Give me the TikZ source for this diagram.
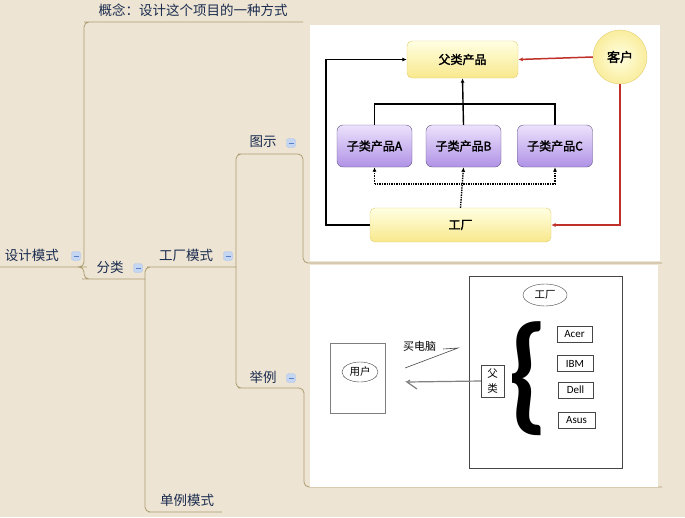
\documentclass[tikz,border=0pt]{standalone}
\usepackage{fontspec}
\usepackage{graphicx}
\setmainfont{Noto Sans CJK SC}
\newfontfamily\heavy[FakeBold=2]{Noto Sans CJK SC}
\newfontfamily\calib{Carlito}
\usetikzlibrary{shapes.geometric,arrows.meta}
\definecolor{paper}{RGB}{237,228,211}
\definecolor{branch}{RGB}{172,158,112}
\definecolor{topictext}{RGB}{26,44,80}
\definecolor{foldfill}{RGB}{196,214,242}
\definecolor{foldline}{RGB}{90,128,196}
\definecolor{redline}{RGB}{192,48,40}
\definecolor{ytop}{RGB}{255,255,226}
\definecolor{ybot}{RGB}{248,232,140}
\definecolor{yedge}{RGB}{226,206,112}
\definecolor{ptop}{RGB}{236,226,252}
\definecolor{pbot}{RGB}{176,146,230}
\definecolor{pedge}{RGB}{96,82,128}
\definecolor{sketch}{RGB}{70,70,70}

\begin{document}
\begin{tikzpicture}[x=1pt,y=-1pt]
\tikzstyle{every node}+=[inner sep=0pt]
\tikzstyle{topic}=[text=topictext,font=\fontsize{13.5}{16}\selectfont]
\tikzstyle{branch}=[draw=branch,line width=0.8pt,rounded corners=5pt]
\tikzstyle{fold}=[draw=foldfill!80!foldline,fill=foldfill,rounded corners=2.5pt,minimum size=9pt,
  path picture={\draw[foldline,line width=1pt] ([xshift=-2.5pt]path picture bounding box.center) -- ([xshift=2.5pt]path picture bounding box.center);}]
\tikzstyle{ybox}=[draw=yedge,rounded corners=5pt,top color=ytop,bottom color=ybot,font=\heavy\fontsize{12}{14}\selectfont]
\tikzstyle{pbox}=[draw=pedge,rounded corners=6pt,top color=ptop,bottom color=pbot,minimum width=75pt,minimum height=42pt,font=\heavy\fontsize{12}{14}\selectfont]
\tikzstyle{pc}=[draw=sketch,line width=0.5pt,font=\calib\fontsize{11}{12}\selectfont,minimum height=16pt]
\tikzstyle{tip}=[-{Latex[length=4.5pt,width=4pt]}]
\tikzstyle{wire}=[black,line width=1.4pt]
\useasboundingbox (0,0) rectangle (685,517);
\fill[paper] (0,0) rectangle (685,517);

\node[topic] (concept) at (193,10) {概念：设计这个项目的一种方式};
\node[topic] (root) at (32,255) {设计模式};
\node[topic] (sort) at (110,267) {分类};
\node[topic] (factorymode) at (186,255) {工厂模式};
\node[topic] (single) at (187,500) {单例模式};
\node[topic] (figure) at (263,142) {图示};
\node[topic] (example) at (263,377) {举例};
\node[fold] (root-fold) at (76,256) {};
\node[fold] (sort-fold) at (138,268) {};
\node[fold] (factorymode-fold) at (228,256) {};
\node[fold] (figure-fold) at (291,143) {};
\node[fold] (example-fold) at (291,378) {};

\coordinate (root-l) at (0,267);
\coordinate (root-r) at (82,267);
\coordinate (concept-l) at (89,22);
\coordinate (concept-r) at (303,22);
\coordinate (sort-l) at (87,279);
\coordinate (sort-r) at (145,279);
\coordinate (factorymode-l) at (152,267);
\coordinate (factorymode-r) at (236,267);
\coordinate (single-l) at (153,512);
\coordinate (single-r) at (222,512);
\coordinate (figure-l) at (243,154);
\coordinate (figure-r) at (298,154);
\coordinate (example-l) at (243,388);
\coordinate (example-r) at (298,388);
\coordinate (shot1-r) at (662,263);
\coordinate (shot2-r) at (662,487);
\draw[branch] (root-l) -- (root-r) -- ++(2,0) |- (concept-l) -- (concept-r);
\draw[branch] (root-r) -- ++(2,0) |- (sort-l) -- (sort-r);
\draw[branch] (sort-r) |- (factorymode-l) -- (factorymode-r);
\draw[branch] (sort-r) |- (single-l) -- (single-r);
\draw[branch] (factorymode-r) |- (figure-l) -- (figure-r);
\draw[branch] (factorymode-r) |- (example-l) -- (example-r);
\draw[branch] (figure-r) -- ++(5,0) |- (shot1-r);
\draw[branch] (example-r) -- ++(6,0) |- (shot2-r);

\fill[white] (310,25) rectangle (660,261);
\node[ybox,minimum width=111pt,minimum height=37pt] (parent) at (462.5,59.5) {父类产品};
\node[circle,draw=yedge,inner color=ytop,outer color=ybot!80!ytop,minimum size=54pt,font=\heavy\fontsize{13}{15}\selectfont] (client) at (620,57) {客户};
\node[pbox] (subA) at (374.5,146) {子类产品A};
\node[pbox] (subB) at (463.5,146) {子类产品B};
\node[pbox] (subC) at (555,146) {子类产品C};
\node[ybox,minimum width=181pt,minimum height=34pt] (factory) at (460.5,225) {工厂};
\coordinate (bus) at (462,104);
\coordinate (dotbus) at (463,184);
\draw[wire] (subA.north) -- (subA.north |- bus) -- (subC.north |- bus) -- (subC.north);
\draw[wire,tip] (subB.north) -- (parent.south);
\draw[wire,tip] (factory.west) -- ++(-44,0) |- (parent.west);
\draw[redline,line width=1.5pt,tip] (client.west) -- (parent.east);
\draw[redline,line width=1.5pt,tip] (client.south) |- (factory.east);
\draw[wire,densely dotted] (subA.south |- dotbus) -- (subC.south |- dotbus);
\draw[wire,densely dotted,tip] (subA.south |- dotbus) -- (subA.south);
\draw[wire,densely dotted,tip] (subC.south |- dotbus) -- (subC.south);
\draw[wire,densely dotted,tip] (factory.north) -- (subB.south);

\fill[white] (310,265) rectangle (658,487);
\node[draw=sketch!70,minimum width=55pt,minimum height=70pt] (userbox) at (357.5,378) {};
\node[ellipse,draw=sketch,minimum width=36pt,minimum height=20pt,font=\fontsize{10.5}{12}\selectfont] (user) at (360,372) {用户};
\node[draw=sketch,minimum width=153pt,minimum height=192pt] (plant) at (545.5,372) {};
\node[ellipse,draw=sketch,minimum width=44pt,minimum height=22pt,font=\fontsize{10.5}{12}\selectfont] (plant-name) at (545,295) {工厂};
\node[draw=sketch,minimum width=23pt,minimum height=32pt,align=center,font=\fontsize{10.5}{15}\selectfont] (base) at (492.5,381) {父\\类};
\node (brace) at (527.5,378.5) {\resizebox*{41pt}{114pt}{\calib\bfseries\{}};
\node[pc,minimum width=35pt] (acer) at (574.5,334) {Acer};
\node[pc,minimum width=36pt] (ibm) at (575,363.5) {IBM};
\node[pc,minimum width=35pt] (dell) at (575.5,390) {Dell};
\node[pc,minimum width=37pt] (asus) at (576.5,420) {Asus};
\node[font=\fontsize{11}{12}\selectfont] (buy) at (419.5,346) {买电脑};
\coordinate (buy-from) at (405,368);
\coordinate (buy-to) at (458,348);
\draw[sketch,line width=0.6pt] (buy-from) -- (buy-to) -- ++(-15,1);
\coordinate (back-to) at (407,382);
\draw[gray,line width=1.2pt] (base.west) -- (back-to) -- ++(10,7);
\draw[gray,line width=1.2pt] (back-to) -- ++(3,-2);
\end{tikzpicture}
\end{document}
